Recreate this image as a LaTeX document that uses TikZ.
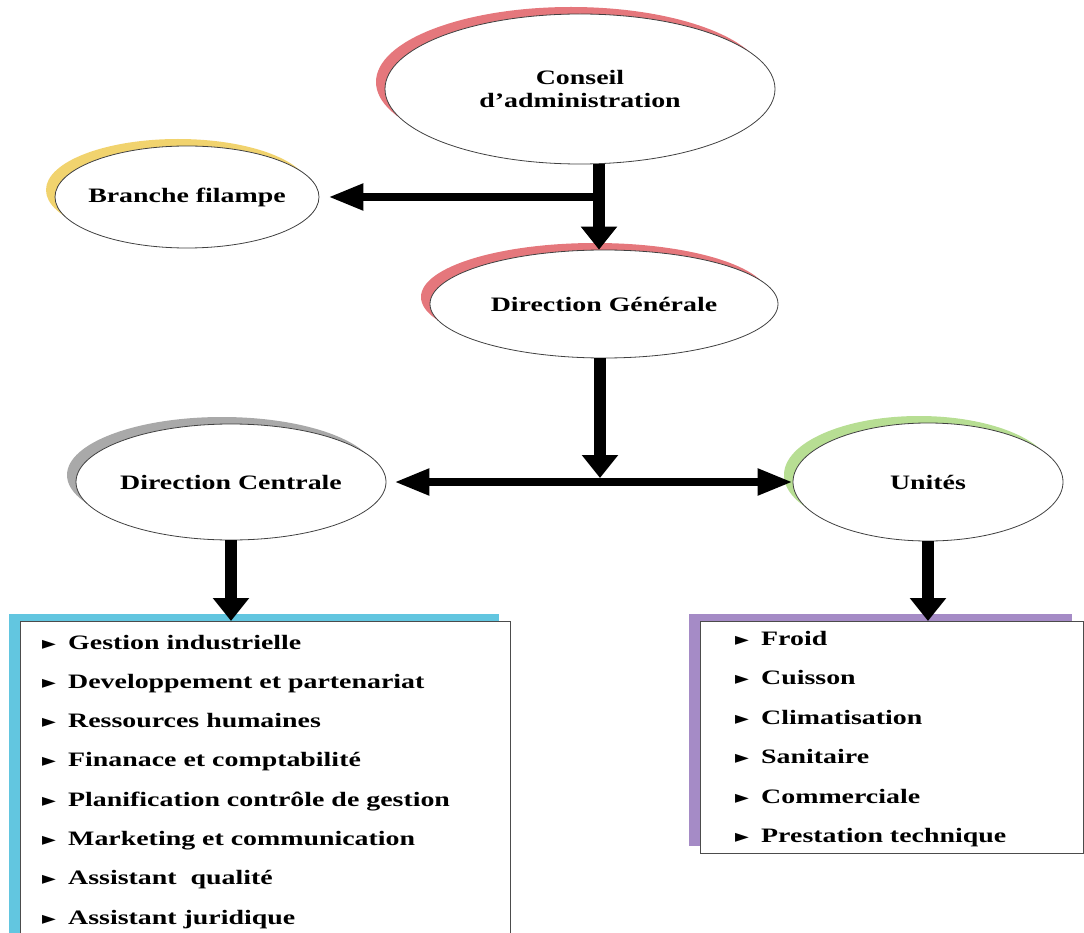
\documentclass[tikz,border=0pt]{standalone}
\usepackage{fontspec}
\setmainfont{Liberation Serif}[FakeStretch=1.36]
\newfontfamily\symfont{DejaVu Sans}
\usetikzlibrary{shapes.geometric,arrows.meta,shadows}
\definecolor{redsh}{HTML}{E5777C}
\definecolor{yelsh}{HTML}{F1D36E}
\definecolor{greysh}{HTML}{A9A9A9}
\definecolor{greensh}{HTML}{B7DE93}
\definecolor{bluesh}{HTML}{62C6E0}
\definecolor{purplesh}{HTML}{A58BC6}
\newcommand\mybullet{\makebox[26pt][l]{\symfont\fontsize{18}{18}\selectfont ►}}
\begin{document}
\begin{tikzpicture}[x=1pt,y=-1pt,
  every node/.style={font=\fontsize{20.5}{23}\selectfont\bfseries},
  oval/.style={ellipse, draw=black!75, line width=0.8pt, fill=white,
    inner xsep=-25pt, inner ysep=0pt, align=center},
  sh/.style={drop shadow={shadow xshift=-9pt, shadow yshift=7pt,
    fill=#1, draw=none, opacity=1}},
  boxsh/.style={drop shadow={shadow xshift=-12pt, shadow yshift=8pt,
    fill=#1, draw=none, opacity=1}},
  listbox/.style={rectangle, draw=black!70, line width=1pt, fill=white,
    inner sep=0pt, anchor=north west},
  listitem/.style={anchor=base west, inner sep=0pt},
  varrow/.style={line width=12pt, -{Triangle[width=35pt,length=23pt]}},
  harrow/.style={line width=8pt, -{Triangle[width=25pt,length=35pt]}},
  hdarrow/.style={line width=8pt,
    {Triangle[width=25pt,length=35pt]}-{Triangle[width=25pt,length=35pt]}}
]
\useasboundingbox (0,0) rectangle (1084,933);
\clip (0,0) rectangle (1084,933);

% ovals
\node[oval, sh=redsh, minimum width=390pt, minimum height=150pt] (conseil) at (580,89) {Conseil\\d’administration};
\node[oval, sh=yelsh, minimum width=264pt, minimum height=102pt] (branche) at (187,197) {Branche filampe};
\node[oval, sh=redsh, minimum width=348pt, minimum height=108pt] (dg) at (604,304) {Direction Générale};
\node[oval, sh=greysh, minimum width=310pt, minimum height=116pt] (dc) at (231,482) {Direction Centrale};
\node[oval, sh=greensh, minimum width=270pt, minimum height=118pt] (unites) at (928,482) {Unités};

% boxes
\node[listbox, boxsh=bluesh, minimum width=490pt, minimum height=340pt] (lbox) at (20,621) {};
\node[listbox, boxsh=purplesh, minimum width=383pt, minimum height=232pt] (rbox) at (700,621) {};

% list items
\foreach \t [count=\i] in {Gestion industrielle, Developpement et partenariat,
  Ressources humaines, Finanace et comptabilité,
  Planification contrôle de gestion, Marketing et communication,
  Assistant~ qualité, Assistant juridique}
  \node[listitem] (l\i) at (42,{649+39.3*(\i-1)}) {\mybullet\t};
\foreach \t [count=\i] in {Froid, Cuisson, Climatisation, Sanitaire,
  Commerciale, Prestation technique}
  \node[listitem] (r\i) at (735,{645+39.5*(\i-1)}) {\mybullet\t};

% connectors
\coordinate (j1) at (599,197);
\coordinate (j2) at (600,482);
\draw[varrow] (conseil.south -| j1) -- (j1 |- dg.north);
\draw[harrow] (j1) -- ([xshift=9pt]branche.east);
\draw[hdarrow] ([xshift=8pt]dc.east) -- (unites.west);
\draw[varrow] (dg.south -| j2) -- ([yshift=4pt]j2);
\draw[varrow] (dc.south) -- (dc.south |- lbox.north);
\draw[varrow] (unites.south) -- (unites.south |- rbox.north);
\end{tikzpicture}
\end{document}
